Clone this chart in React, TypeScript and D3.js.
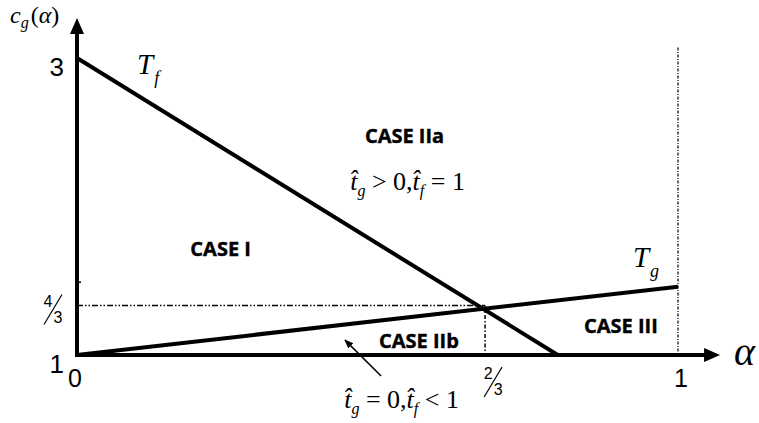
import { useEffect, useRef } from 'react';
import * as d3 from 'd3';

// curve endpoints (alpha, c_g)
const tfLine = [{ a: 0, c: 3 }, { a: 0.8, c: 1 }];
const tgLine = [{ a: 0, c: 1 }, { a: 1, c: 1.46 }];

// axis ticks
const yTicks = [{ v: 3, label: '3' }, { v: 1, label: '1' }];
const xTicks = [{ v: 0, label: '0' }, { v: 1, label: '1' }];
const minorYTicks = [1.49];

// guide point where the curves cross (drawn at 2/3, 4/3)
const crossA = 0.679;
const crossC = 4 / 3;

// case labels
const caseLabels = [
  { a: 0.239, c: 1.67, text: 'CASE I' },
  { a: 0.545, c: 2.43, text: 'CASE IIa' },
  { a: 0.569, c: 1.05, text: 'CASE IIb' },
  { a: 0.905, c: 1.15, text: 'CASE III' },
];

const W = 759;
const H = 423;

const App = () => {
  const svgRef = useRef<SVGSVGElement>(null);

  useEffect(() => {
    d3.select(svgRef.current).selectAll('*').remove();
    const svg = d3.select(svgRef.current)
      .attr('width', W)
      .attr('height', H);

    const x = d3.scaleLinear().domain([0, 1]).range([77, 678]);
    const y = d3.scaleLinear().domain([1, 3]).range([355, 58]);

    const serif = '"Liberation Serif", "Times New Roman", serif';
    const sans = '"Liberation Sans", Arial, sans-serif';
    const bold = '"Open Sans", "Liberation Sans", sans-serif';

    const defs = svg.append('defs');
    defs.append('marker')
      .attr('id', 'note-arrow')
      .attr('viewBox', '0 0 10 10')
      .attr('refX', 9).attr('refY', 5)
      .attr('markerWidth', 9).attr('markerHeight', 9)
      .attr('markerUnits', 'userSpaceOnUse')
      .attr('orient', 'auto')
      .append('path')
      .attr('d', 'M0,1 L10,5 L0,9 Z')
      .attr('fill', '#000');

    // guide lines
    svg.append('line')
      .attr('x1', x(0)).attr('x2', x(crossA))
      .attr('y1', y(crossC)).attr('y2', y(crossC))
      .attr('stroke', '#000').attr('stroke-width', 1.5)
      .attr('stroke-dasharray', '6,2,1.5,2,1.5,2');
    svg.append('line')
      .attr('x1', x(crossA)).attr('x2', x(crossA))
      .attr('y1', y(crossC)).attr('y2', y(1))
      .attr('stroke', '#000').attr('stroke-width', 1.5)
      .attr('stroke-dasharray', '4,2,1.5,2');
    svg.append('line')
      .attr('x1', x(1)).attr('x2', x(1))
      .attr('y1', y(3.07)).attr('y2', y(1))
      .attr('stroke', '#000').attr('stroke-width', 1.2)
      .attr('stroke-dasharray', '3,1.5,1,1.5');

    // curves
    const line = d3.line<{ a: number; c: number }>()
      .x(d => x(d.a))
      .y(d => y(d.c));

    svg.append('path')
      .datum(tfLine)
      .attr('d', line)
      .attr('fill', 'none')
      .attr('stroke', '#000')
      .attr('stroke-width', 4);

    svg.append('path')
      .datum(tgLine)
      .attr('d', line)
      .attr('fill', 'none')
      .attr('stroke', '#000')
      .attr('stroke-width', 4);

    // axes
    const xEnd = x(1.07);
    const yEnd = y(3.27);
    svg.append('line')
      .attr('x1', x(0)).attr('x2', xEnd - 10)
      .attr('y1', y(1)).attr('y2', y(1))
      .attr('stroke', '#000').attr('stroke-width', 4);
    svg.append('path')
      .attr('d', `M${xEnd},${y(1)} L${xEnd - 16},${y(1) - 7} L${xEnd - 16},${y(1) + 7} Z`)
      .attr('fill', '#000');

    svg.append('line')
      .attr('x1', x(0)).attr('x2', x(0))
      .attr('y1', y(1) + 2).attr('y2', yEnd + 10)
      .attr('stroke', '#000').attr('stroke-width', 4);
    svg.append('path')
      .attr('d', `M${x(0)},${yEnd} L${x(0) - 7},${yEnd + 16} L${x(0) + 7},${yEnd + 16} Z`)
      .attr('fill', '#000');

    svg.selectAll('.minor')
      .data(minorYTicks)
      .join('line')
      .attr('x1', x(0)).attr('x2', x(0) + 4)
      .attr('y1', d => y(d)).attr('y2', d => y(d))
      .attr('stroke', '#000').attr('stroke-width', 1.5);

    // tick labels
    svg.selectAll('.ytick')
      .data(yTicks)
      .join('text')
      .attr('x', x(0) - 13)
      .attr('y', d => y(d.v) + 18)
      .attr('text-anchor', 'end')
      .attr('font-family', sans)
      .attr('font-size', 26)
      .text(d => d.label);

    svg.selectAll('.xtick')
      .data(xTicks)
      .join('text')
      .attr('x', d => x(d.v) + (d.v === 0 ? -2 : 3))
      .attr('y', d => y(1) + 32)
      .attr('text-anchor', 'middle')
      .attr('font-family', sans)
      .attr('font-size', 25)
      .text(d => d.label);

    // fraction labels 4/3 and 2/3
    const fraction = (cx: number, cy: number, num: string, den: string) => {
      const g = svg.append('g').attr('font-family', sans).attr('font-size', 16);
      g.append('text').attr('x', cx - 5).attr('y', cy - 3).attr('text-anchor', 'middle').text(num);
      g.append('text').attr('x', cx + 5).attr('y', cy + 13).attr('text-anchor', 'middle').text(den);
      g.append('line')
        .attr('x1', cx - 9).attr('y1', cy + 15)
        .attr('x2', cx + 9).attr('y2', cy - 15)
        .attr('stroke', '#000').attr('stroke-width', 1.2);
    };
    fraction(x(0) - 24, y(crossC) + 4, '4', '3');
    fraction(x(crossA) + 8, y(1) + 27, '2', '3');

    // axis titles
    const yTitle = svg.append('text')
      .attr('x', 10).attr('y', 23)
      .attr('font-family', serif)
      .attr('font-size', 24);
    yTitle.append('tspan').attr('font-style', 'italic').text('c');
    yTitle.append('tspan').attr('font-style', 'italic').attr('font-size', 16).attr('dy', 5).text('g');
    yTitle.append('tspan').attr('dy', -5).attr('dx', 2).text('(');
    yTitle.append('tspan').attr('font-style', 'italic').text('α');
    yTitle.append('tspan').text(')');

    svg.append('text')
      .attr('x', xEnd + 14).attr('y', y(1) + 10)
      .attr('font-family', serif)
      .attr('font-style', 'italic')
      .attr('font-size', 40)
      .text('α');

    // curve names
    const curveName = (px: number, py: number, sub: string) => {
      const t = svg.append('text')
        .attr('x', px).attr('y', py)
        .attr('font-family', serif)
        .attr('font-style', 'italic')
        .attr('font-size', 29);
      t.append('tspan').text('T');
      t.append('tspan').attr('font-size', 18).attr('dy', 10).attr('dx', 1).text(sub);
    };
    curveName(x(0.1), y(2.89), 'f');
    curveName(x(0.925), y(1.59), 'g');

    // case labels
    svg.selectAll('.case')
      .data(caseLabels)
      .join('text')
      .attr('x', d => x(d.a))
      .attr('y', d => y(d.c))
      .attr('text-anchor', 'middle')
      .attr('font-family', bold)
      .attr('font-weight', 700)
      .attr('font-size', 20)
      .attr('stroke', '#000')
      .attr('stroke-width', 0.4)
      .text(d => d.text);

    // conditions
    const condition = (cx: number, cy: number, parts: [string, string, string, string]) => {
      const t = svg.append('text')
        .attr('x', cx).attr('y', cy)
        .attr('text-anchor', 'middle')
        .attr('font-family', serif)
        .attr('font-size', 26);
      t.append('tspan').attr('font-style', 'italic').text('t\u0302');
      t.append('tspan').attr('font-style', 'italic').attr('font-size', 16).attr('dy', 6).text(parts[0]);
      t.append('tspan').attr('dy', -6).text(parts[1]);
      t.append('tspan').attr('font-style', 'italic').text('t\u0302');
      t.append('tspan').attr('font-style', 'italic').attr('font-size', 16).attr('dy', 6).text(parts[2]);
      t.append('tspan').attr('dy', -6).text(parts[3]);
    };
    condition(x(0.55), 190, ['g', ' > 0,', 'f', ' = 1']);
    condition(x(0.54), 408, ['g', ' = 0,', 'f', ' < 1']);

    // note arrow for case IIb condition
    svg.append('line')
      .attr('x1', x(0.506)).attr('y1', y(0.859))
      .attr('x2', x(0.446)).attr('y2', y(1.10))
      .attr('stroke', '#000').attr('stroke-width', 1.5)
      .attr('marker-end', 'url(#note-arrow)');
  }, []);

  return (
    <div style={{ position: 'absolute', left: 0, top: 0, width: W, height: H, background: '#fff' }}>
      <svg ref={svgRef} style={{ display: 'block' }}></svg>
    </div>
  );
};

export default App;
